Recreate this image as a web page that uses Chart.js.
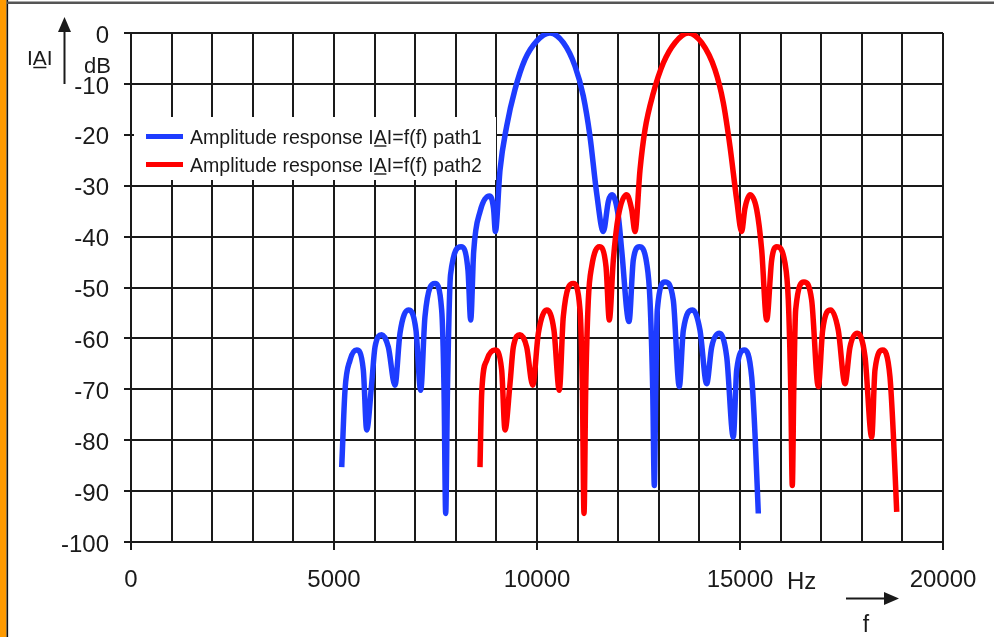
<!DOCTYPE html>
<html>
<head>
<meta charset="utf-8">
<title>Amplitude response</title>
<script src="https://cdn.jsdelivr.net/npm/chart.js@4/dist/chart.umd.min.js"></script>
<style>
  html, body { margin: 0; padding: 0; background: #ffffff; }
  canvas { display: block; }
</style>
</head>
<body>
<canvas id="c" width="994" height="637"></canvas>
<script>
// Frequency (Hz) and level (dB) of path 1
const path1Freq = [5190, 5271, 5394, 5559, 5722, 5805, 5928, 6010, 6175, 6338, 6502, 6625, 6831, 7019, 7135, 7241, 7488, 7652, 7710, 7751, 7795, 7870, 8130, 8300, 8367, 8440, 8600, 8830, 8930, 8975, 9089, 9253, 9458, 9704, 9992, 10320, 10649, 10936, 11141, 11305, 11470, 11633, 11760, 11850, 12003, 12085, 12266, 12372, 12521, 12701, 12783, 12850, 12890, 12925, 12963, 13153, 13357, 13505, 13604, 13835, 14015, 14179, 14302, 14490, 14672, 14835, 14919, 15106, 15288, 15369, 15451];
const path1Db   = [-85.3, -70.2, -64.3, -62.3, -66.2, -78, -68.9, -61.7, -59.3, -61.7, -69.2, -59, -54.4, -58.4, -70.2, -55.7, -49.2, -54.4, -70, -94.4, -70, -47.5, -42, -46.6, -56.4, -43, -35, -32, -34.5, -39, -26.9, -18.3, -11.1, -5.2, -1.6, 0, -1.9, -6.5, -12.4, -20.3, -31.5, -39, -33, -31.8, -36, -42.6, -56.7, -44.6, -42, -45.2, -52.5, -70, -88.9, -70, -54.4, -48.9, -52.5, -69.5, -58.4, -54.4, -58.4, -68.9, -61.7, -59, -63.6, -79.4, -66.2, -62.3, -67.6, -78.7, -94.4];

// Frequency (Hz) and level (dB) of path 2
const path2Freq = [8596, 8638, 8761, 8966, 9130, 9212, 9335, 9417, 9581, 9746, 9894, 10033, 10239, 10418, 10549, 10648, 10894, 11059, 11118, 11158, 11200, 11264, 11347, 11535, 11700, 11781, 11880, 12003, 12209, 12332, 12414, 12537, 12660, 12865, 13111, 13399, 13727, 14056, 14384, 14589, 14754, 14919, 15041, 15120, 15246, 15411, 15534, 15657, 15780, 15904, 16108, 16190, 16250, 16288, 16325, 16371, 16576, 16765, 16929, 17036, 17234, 17421, 17586, 17709, 17889, 18079, 18244, 18325, 18515, 18694, 18776, 18860];
const path2Db   = [-85.3, -70.8, -64.3, -62.3, -66.2, -78, -68.9, -61.7, -59.3, -61.7, -69.2, -59, -54.4, -58.4, -70.2, -55.7, -49.2, -54.4, -70, -94.4, -70, -52.5, -45.9, -42, -45.9, -56.4, -44.6, -36, -31.8, -34.7, -39, -26.9, -19, -11.8, -5.9, -1.9, 0, -1.9, -7.2, -13.7, -22.3, -32.8, -39, -34.5, -31.8, -34.7, -42.6, -56.4, -44.6, -42, -45.2, -52.5, -70, -88.9, -70, -54.4, -48.9, -52.5, -69.5, -58.4, -54.4, -58.4, -68.9, -61.7, -59, -63.6, -79.4, -66.2, -62.3, -67.6, -78.7, -94.1];

// Axis labels
const xLabelValues = [0, 5000, 10000, 15000, 20000];
const seriesNames = ['Amplitude response IAI=f(f) path1', 'Amplitude response IAI=f(f) path2'];

const BLUE = '#1e3cff';
const RED = '#ff0000';
const INK = '#1a1a1a';
const FONT = '"Liberation Sans", Arial, Helvetica, sans-serif';

function toPoints(xs, ys) {
  return xs.map((x, i) => ({ x: x, y: ys[i] }));
}

// Draws text and underlines the "A" that follows the leading "I"
function textWithUnderlinedA(ctx, text, x, y, lineW) {
  ctx.fillText(text, x, y);
  const i = text.indexOf('IAI');
  if (i < 0) return;
  const x0 = x + ctx.measureText(text.slice(0, i + 1)).width;
  const x1 = x + ctx.measureText(text.slice(0, i + 2)).width;
  ctx.beginPath();
  ctx.lineWidth = lineW;
  ctx.moveTo(x0 + 0.5, y + 2.5);
  ctx.lineTo(x1 - 0.5, y + 2.5);
  ctx.stroke();
}

function arrowHead(ctx, tipX, tipY, dir) {
  ctx.beginPath();
  if (dir === 'up') {
    ctx.moveTo(tipX, tipY);
    ctx.lineTo(tipX - 6.5, tipY + 15);
    ctx.lineTo(tipX + 6.5, tipY + 15);
  } else {
    ctx.moveTo(tipX, tipY);
    ctx.lineTo(tipX - 15, tipY - 6.5);
    ctx.lineTo(tipX - 15, tipY + 6.5);
  }
  ctx.closePath();
  ctx.fill();
}

const decorations = {
  id: 'decorations',
  beforeDraw(chart) {
    const ctx = chart.ctx;
    ctx.save();
    ctx.fillStyle = '#ffffff';
    ctx.fillRect(0, 0, chart.width, chart.height);
    // page frame
    ctx.fillStyle = '#ff9a00';
    ctx.fillRect(0, 0, 6.5, chart.height);
    ctx.fillStyle = '#111111';
    ctx.fillRect(6.5, 0, 1.6, chart.height);
    ctx.fillStyle = '#dddddd';
    ctx.fillRect(8.1, 0, 1, chart.height);
    ctx.fillStyle = '#555555';
    ctx.fillRect(7, 1.5, chart.width - 7, 2.5);
    ctx.restore();
  },
  beforeDatasetsDraw(chart) {
    const ctx = chart.ctx;
    ctx.save();
    // legend panel
    ctx.fillStyle = '#ffffff';
    ctx.fillRect(134, 117, 362, 63);
    const rows = [
      { color: BLUE, y: 143.5, label: seriesNames[0] },
      { color: RED, y: 171.5, label: seriesNames[1] }
    ];
    ctx.font = '21px ' + FONT;
    ctx.textBaseline = 'alphabetic';
    ctx.textAlign = 'left';
    rows.forEach(r => {
      ctx.strokeStyle = r.color;
      ctx.lineWidth = 5;
      ctx.lineCap = 'butt';
      ctx.beginPath();
      ctx.moveTo(146, r.y - 7);
      ctx.lineTo(183, r.y - 7);
      ctx.stroke();
      // legend text is set slightly condensed
      const w = ctx.measureText(r.label).width;
      const sx = 292 / w;
      ctx.save();
      ctx.translate(190, 0);
      ctx.scale(sx, 1);
      ctx.fillStyle = INK;
      ctx.strokeStyle = INK;
      textWithUnderlinedA(ctx, r.label, 0, r.y, 1.4);
      ctx.restore();
    });
    ctx.restore();
  },
  afterDraw(chart) {
    const ctx = chart.ctx;
    ctx.save();
    ctx.fillStyle = INK;
    ctx.strokeStyle = INK;
    ctx.textAlign = 'left';
    ctx.textBaseline = 'alphabetic';
    // magnitude symbol and unit on the level axis
    ctx.font = '21px ' + FONT;
    textWithUnderlinedA(ctx, 'IAI', 27, 65, 1.5);
    ctx.font = '22px ' + FONT;
    ctx.textAlign = 'center';
    ctx.fillText('dB', 97.5, 73);
    ctx.lineWidth = 2;
    ctx.beginPath();
    ctx.moveTo(64.5, 30);
    ctx.lineTo(64.5, 84);
    ctx.stroke();
    arrowHead(ctx, 64.5, 17, 'up');
    // unit and direction on the frequency axis
    ctx.font = '24px ' + FONT;
    ctx.textAlign = 'left';
    ctx.fillText('Hz', 787, 588.5);
    ctx.beginPath();
    ctx.moveTo(846, 598.5);
    ctx.lineTo(886, 598.5);
    ctx.stroke();
    arrowHead(ctx, 899, 598.5, 'right');
    ctx.font = '23px ' + FONT;
    ctx.textAlign = 'center';
    ctx.fillText('f', 866, 632);
    ctx.restore();
  }
};

new Chart(document.getElementById('c'), {
  type: 'line',
  data: {
    datasets: [
      {
        label: seriesNames[0],
        data: toPoints(path1Freq, path1Db),
        borderColor: BLUE,
        borderWidth: 5.5,
        pointRadius: 0,
        cubicInterpolationMode: 'monotone',
        fill: false,
        order: 1
      },
      {
        label: seriesNames[1],
        data: toPoints(path2Freq, path2Db),
        borderColor: RED,
        borderWidth: 5.5,
        pointRadius: 0,
        cubicInterpolationMode: 'monotone',
        fill: false,
        order: 0
      }
    ]
  },
  options: {
    responsive: false,
    animation: false,
    devicePixelRatio: 1,
    layout: { padding: { top: 33, right: 51, left: 0, bottom: 0 } },
    plugins: {
      legend: { display: false },
      tooltip: { enabled: false }
    },
    scales: {
      x: {
        type: 'linear',
        min: 0,
        max: 20000,
        afterFit: s => { s.height = 95; },
        afterBuildTicks: s => {
          s.ticks = [];
          for (let v = 0; v <= 20000; v += 1000) s.ticks.push({ value: v });
        },
        ticks: {
          autoSkip: false,
          maxRotation: 0,
          padding: 16,
          color: INK,
          font: { family: FONT, size: 24 },
          callback: v => (xLabelValues.includes(v) ? String(v) : '')
        },
        grid: {
          color: INK,
          lineWidth: 2,
          tickLength: 8,
          tickColor: ctx => (ctx.tick && xLabelValues.includes(ctx.tick.value) ? INK : 'rgba(0,0,0,0)')
        },
        border: { color: INK, width: 2 }
      },
      y: {
        min: -100,
        max: 0,
        afterFit: s => { s.width = 131; },
        ticks: {
          stepSize: 10,
          padding: 15,
          labelOffset: 3,
          color: INK,
          font: { family: FONT, size: 24 }
        },
        grid: { color: INK, lineWidth: 2, tickLength: 7 },
        border: { color: INK, width: 2 }
      }
    }
  },
  plugins: [decorations]
});
</script>
</body>
</html>
